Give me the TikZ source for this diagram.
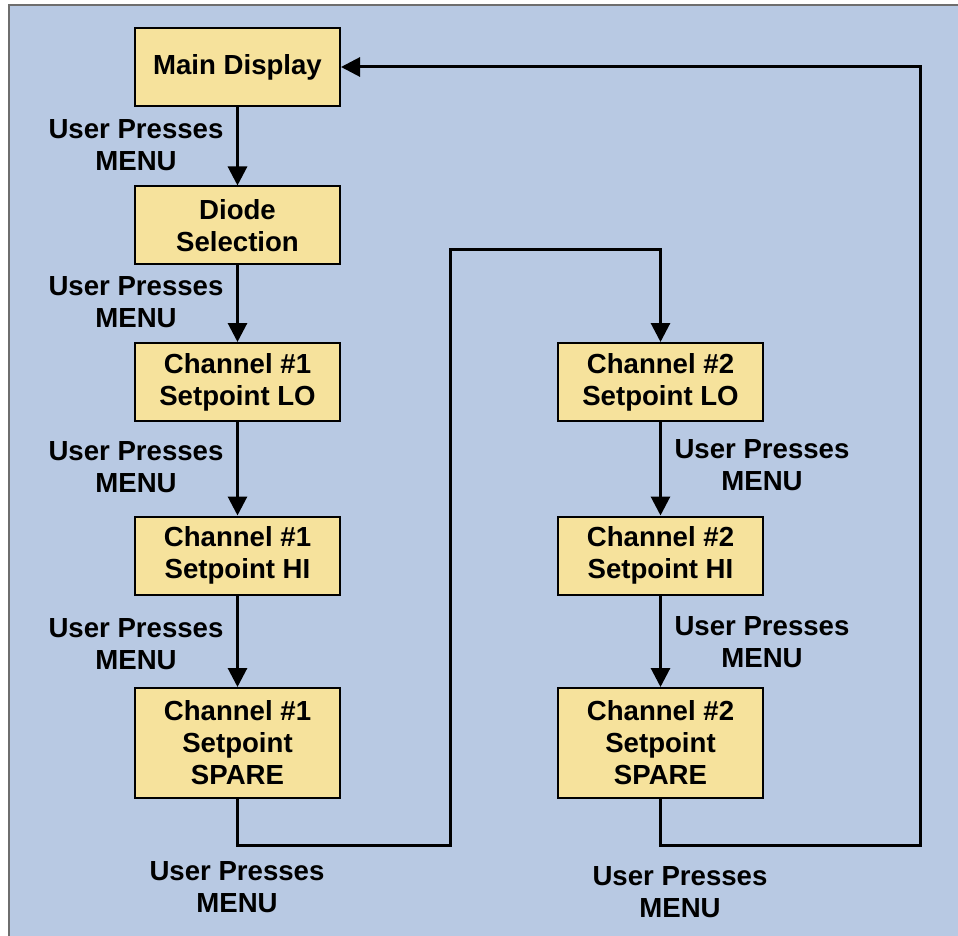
\documentclass[tikz,border=0pt]{standalone}
\usepackage{fontspec}
\setmainfont{Liberation Sans}
\usetikzlibrary{arrows.meta}
\definecolor{bgblue}{HTML}{B8C9E3}
\definecolor{boxfill}{HTML}{F6E29C}
\definecolor{frame}{HTML}{6E6E6E}
\tikzset{
  box/.style={draw=black, line width=1pt, fill=boxfill, minimum width=102.5pt, minimum height=39pt, inner sep=0pt, align=center, font=\fontsize{13.8}{16}\selectfont\bfseries},
  tallbox/.style={box, minimum height=55pt},
  lbl/.style={align=center, inner sep=0pt, font=\fontsize{13.8}{16}\selectfont\bfseries},
  arr/.style={line width=1.5pt, -{Triangle[length=9.5pt,width=9.5pt]}},
  plain/.style={line width=1.5pt}
}
\begin{document}
\begin{tikzpicture}[x=0.5pt,y=-0.5pt]
\useasboundingbox (0,0) rectangle (958,936);
\draw[frame, line width=1pt, fill=bgblue] (9,5) rectangle (970,950);
% left column
\node[box] (main) at (237.5,67) {Main Display};
\node[box] (diode) at (237.5,225.5) {Diode\\Selection};
\node[box] (lo1) at (237.5,382) {Channel \#1\\Setpoint LO};
\node[box] (hi1) at (237.5,555.5) {Channel \#1\\Setpoint HI};
\node[tallbox] (sp1) at (237.5,743) {Channel \#1\\Setpoint\\SPARE};
% right column
\node[box] (lo2) at (660.5,382) {Channel \#2\\Setpoint LO};
\node[box] (hi2) at (660.5,555.5) {Channel \#2\\Setpoint HI};
\node[tallbox] (sp2) at (660.5,743) {Channel \#2\\Setpoint\\SPARE};
% labels
\node[lbl] (t1) at (136,145) {User Presses\\MENU};
\node[lbl] (t2) at (136,302) {User Presses\\MENU};
\node[lbl] (t3) at (136,467) {User Presses\\MENU};
\node[lbl] (t4) at (136,644) {User Presses\\MENU};
\node[lbl] (t5) at (762,465) {User Presses\\MENU};
\node[lbl] (t6) at (762,642) {User Presses\\MENU};
\node[lbl] (t7) at (237,887) {User Presses\\MENU};
\node[lbl] (t8) at (680,892) {User Presses\\MENU};
% connectors
\draw[arr] (main) -- (diode);
\draw[arr] (diode) -- (lo1);
\draw[arr] (lo1) -- (hi1);
\draw[arr] (hi1) -- (sp1);
\draw[arr] (lo2) -- (hi2);
\draw[arr] (hi2) -- (sp2);
\coordinate (a1) at (450,845);
\coordinate (a2) at (450,250);
\draw[arr] (sp1.south) |- (a1) -- (a2) -| (lo2.north);
\coordinate (b1) at (920,845);
\coordinate (b2) at (920,67);
\draw[arr] (sp2.south) |- (b1) -- (b2) -- (main.east);
\end{tikzpicture}
\end{document}
